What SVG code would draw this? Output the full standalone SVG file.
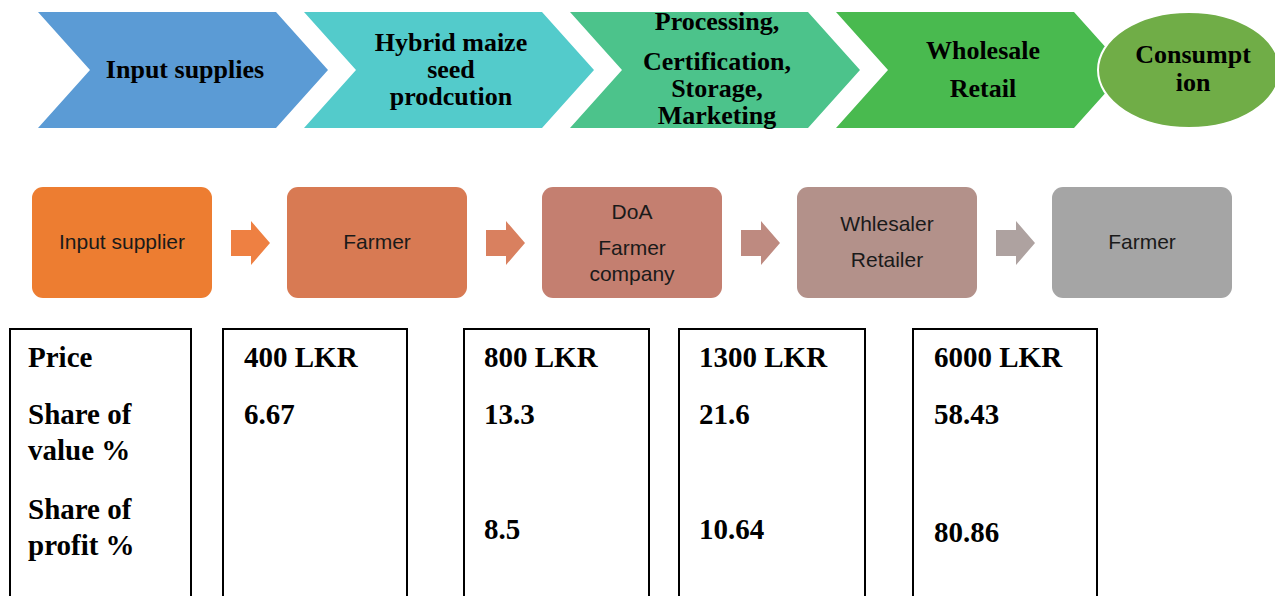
<svg xmlns="http://www.w3.org/2000/svg" width="1275" height="596" viewBox="0 0 1275 596">
<style>
.ht{font-family:"Liberation Serif","Times New Roman",serif;font-weight:bold;font-size:26px;fill:#000;text-anchor:middle}
.bt{font-family:"Liberation Sans",Arial,sans-serif;font-size:21px;fill:#1a1a1a;text-anchor:middle}
.tt{font-family:"Liberation Serif","Times New Roman",serif;font-weight:bold;font-size:29px;fill:#000}
.col{fill:#fff;stroke:#000;stroke-width:2}
</style>
<rect width="1275" height="596" fill="#fff"/>
<g id="stage1"><polygon points="38,12 276,12 328,70 276,128 38,128 90,70" fill="#5B9BD5"/><text class="ht" x="185" y="78">Input supplies</text></g>
<g id="stage2"><polygon points="304,12 542,12 594,70 542,128 304,128 356,70" fill="#53CBCB"/><text class="ht" x="451" y="51">Hybrid maize</text><text class="ht" x="451" y="78">seed</text><text class="ht" x="451" y="105">prodcution</text></g>
<g id="stage3"><polygon points="570,12 808,12 860,70 808,128 570,128 622,70" fill="#4CC38B"/><text class="ht" x="717" y="30">Processing,</text><text class="ht" x="717" y="70">Certification,</text><text class="ht" x="717" y="97">Storage,</text><text class="ht" x="717" y="124">Marketing</text></g>
<g id="stage4"><polygon points="836,12 1074,12 1126,70 1074,128 836,128 888,70" fill="#49BA4F"/><text class="ht" x="983" y="59">Wholesale</text><text class="ht" x="983" y="97">Retail</text></g>
<g id="stage5"><ellipse cx="1189" cy="70" rx="91" ry="58" fill="#70AD47" stroke="#fff" stroke-width="2"/><text class="ht" x="1193" y="63">Consumpt</text><text class="ht" x="1193" y="91">ion</text></g>

<g id="actor1"><rect x="32" y="187" width="180" height="111" rx="11" fill="#ED7D31"/><text class="bt" x="122" y="249">Input supplier</text></g>
<g id="actor2"><rect x="287" y="187" width="180" height="111" rx="11" fill="#D87A53"/><text class="bt" x="377" y="249">Farmer</text></g>
<g id="actor3"><rect x="542" y="187" width="180" height="111" rx="11" fill="#C47F70"/><text class="bt" x="632" y="219">DoA</text><text class="bt" x="632" y="255">Farmer</text><text class="bt" x="632" y="281">company</text></g>
<g id="actor4"><rect x="797" y="187" width="180" height="111" rx="11" fill="#B3918A"/><text class="bt" x="887" y="231">Whlesaler</text><text class="bt" x="887" y="267">Retailer</text></g>
<g id="actor5"><rect x="1052" y="187" width="180" height="111" rx="11" fill="#A5A5A5"/><text class="bt" x="1142" y="249">Farmer</text></g>

<g id="connectors">
<polygon points="231,230 251,230 251,221 270,243 251,265 251,256 231,256" fill="#EE8042"/>
<polygon points="486,230 506,230 506,221 525,243 506,265 506,256 486,256" fill="#D9805F"/>
<polygon points="741,230 761,230 761,221 780,243 761,265 761,256 741,256" fill="#BE8A80"/>
<polygon points="996,230 1016,230 1016,221 1035,243 1016,265 1016,256 996,256" fill="#AEA2A0"/>
</g>

<g id="col-labels"><rect class="col" x="10" y="329" width="181" height="280"/>
<text class="tt" x="28" y="367">Price</text><text class="tt" x="28" y="424">Share of</text><text class="tt" x="28" y="460">value %</text><text class="tt" x="28" y="519">Share of</text><text class="tt" x="28" y="555">profit %</text></g>
<g id="col-input"><rect class="col" x="223" y="329" width="184" height="280"/>
<text class="tt" x="244" y="367">400 LKR</text><text class="tt" x="244" y="424">6.67</text></g>
<g id="col-farmer"><rect class="col" x="464" y="329" width="185" height="280"/>
<text class="tt" x="484" y="367">800 LKR</text><text class="tt" x="484" y="424">13.3</text><text class="tt" x="484" y="539">8.5</text></g>
<g id="col-company"><rect class="col" x="679" y="329" width="186" height="280"/>
<text class="tt" x="699" y="367">1300 LKR</text><text class="tt" x="699" y="424">21.6</text><text class="tt" x="699" y="539">10.64</text></g>
<g id="col-retail"><rect class="col" x="913" y="329" width="184" height="280"/>
<text class="tt" x="934" y="367">6000 LKR</text><text class="tt" x="934" y="424">58.43</text><text class="tt" x="934" y="542">80.86</text></g>
</svg>
